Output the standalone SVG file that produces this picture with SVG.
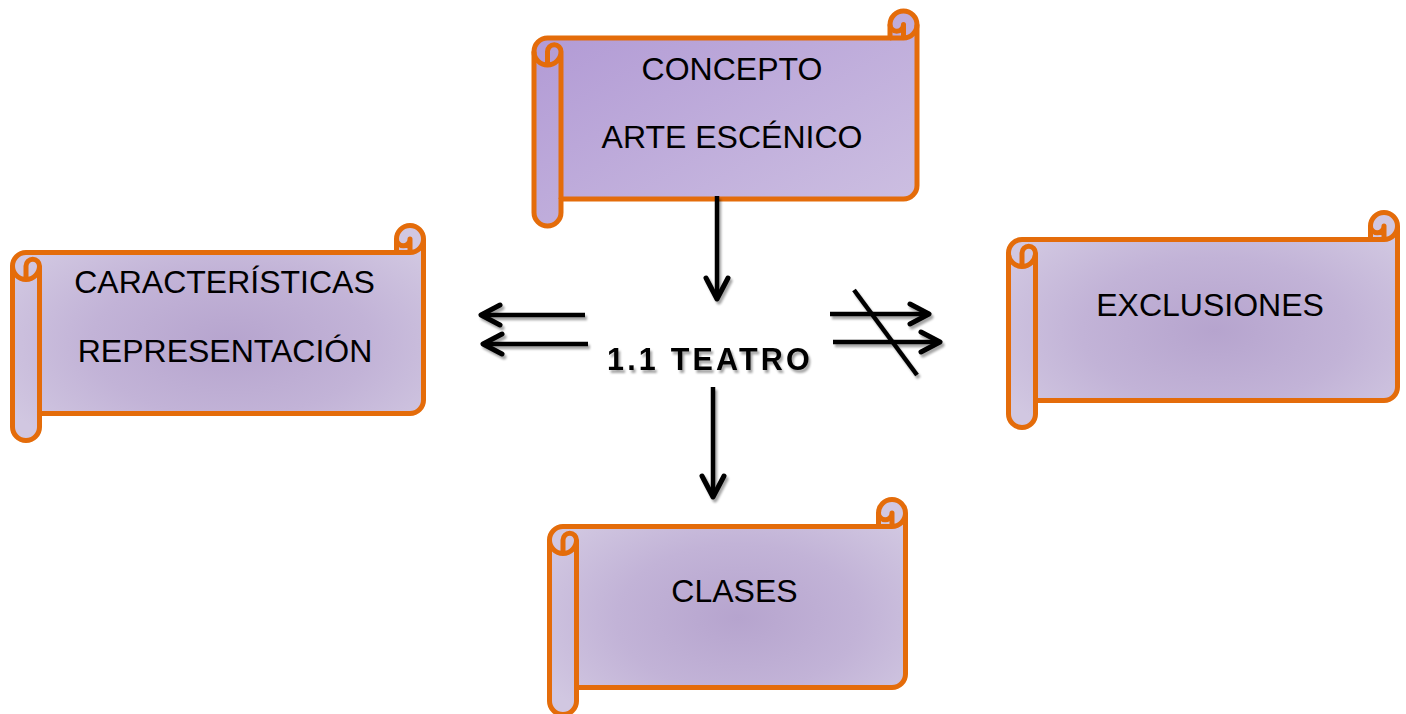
<svg xmlns="http://www.w3.org/2000/svg" width="1406" height="714" viewBox="0 0 1406 714">
<style>
.scroll{stroke:#E46C0A;stroke-width:5;stroke-linejoin:round}
.det{fill:none;stroke:#E46C0A;stroke-width:5;stroke-linejoin:round}
.lbl{font-family:"Liberation Sans",Arial,sans-serif;font-size:32px;fill:#000;text-anchor:middle}
.arr{stroke:#000;stroke-width:4.5;fill:none}
.head{stroke:#000;stroke-width:5;fill:none;stroke-linecap:round;stroke-linejoin:round}
</style>
<defs>
<linearGradient id="gLin" x1="0" y1="0" x2="1" y2="1">
<stop offset="0" stop-color="#B098D4"/>
<stop offset="1" stop-color="#CEC1E2"/>
</linearGradient>
<radialGradient id="gRad" cx="0.53" cy="0.55" r="0.62">
<stop offset="0" stop-color="#B6A4CE"/>
<stop offset="0.55" stop-color="#C2B3D7"/>
<stop offset="1" stop-color="#D1C7E1"/>
</radialGradient>
<filter id="sh" x="-20%" y="-20%" width="140%" height="140%">
<feDropShadow dx="2" dy="3" stdDeviation="1.3" flood-color="#000" flood-opacity="0.35"/>
</filter>
</defs>

<g id="concepto" transform="translate(534,11)">
<path class="scroll" fill="url(#gLin)" d="M0,40.5 A13.5 13.5 0 0 1 13.5,27 L356,27 L356,13.5 A13.5 13.5 0 0 1 383,13.5 L383,174.5 A13.5 13.5 0 0 1 369.5,188 L27,188 L27,201.5 A13.5 13.5 0 0 1 0,201.5 Z"/>
<path class="det" d="M356,27 L369.5,27 A13.5 13.5 0 0 0 383,13.5 M369.5,27 L369.5,13.5 A6.75 6.75 0 0 1 356,13.5 M13.5,54 L13.5,40.5 A6.75 6.75 0 0 1 27,40.5 A13.5 13.5 0 0 1 0,40.5 M27,40.5 L27,188"/>
<text class="lbl" x="198" y="69">CONCEPTO</text>
<text class="lbl" x="198" y="137">ARTE ESCÉNICO</text>
</g>

<g id="caracteristicas" transform="translate(12.5,225.5)">
<path class="scroll" fill="url(#gRad)" d="M0,40.5 A13.5 13.5 0 0 1 13.5,27 L384,27 L384,13.5 A13.5 13.5 0 0 1 411,13.5 L411,174.5 A13.5 13.5 0 0 1 397.5,188 L27,188 L27,201.5 A13.5 13.5 0 0 1 0,201.5 Z"/>
<path class="det" d="M384,27 L397.5,27 A13.5 13.5 0 0 0 411,13.5 M397.5,27 L397.5,13.5 A6.75 6.75 0 0 1 384,13.5 M13.5,54 L13.5,40.5 A6.75 6.75 0 0 1 27,40.5 A13.5 13.5 0 0 1 0,40.5 M27,40.5 L27,188"/>
<text class="lbl" x="212" y="67.5">CARACTERÍSTICAS</text>
<text class="lbl" x="212.5" y="136.5">REPRESENTACIÓN</text>
</g>

<g id="exclusiones" transform="translate(1008.5,212.5)">
<path class="scroll" fill="url(#gRad)" d="M0,40.5 A13.5 13.5 0 0 1 13.5,27 L362,27 L362,13.5 A13.5 13.5 0 0 1 389,13.5 L389,174.5 A13.5 13.5 0 0 1 375.5,188 L27,188 L27,201.5 A13.5 13.5 0 0 1 0,201.5 Z"/>
<path class="det" d="M362,27 L375.5,27 A13.5 13.5 0 0 0 389,13.5 M375.5,27 L375.5,13.5 A6.75 6.75 0 0 1 362,13.5 M13.5,54 L13.5,40.5 A6.75 6.75 0 0 1 27,40.5 A13.5 13.5 0 0 1 0,40.5 M27,40.5 L27,188"/>
<text class="lbl" x="201.5" y="103.5">EXCLUSIONES</text>
</g>

<g id="clases" transform="translate(549.5,499.5)">
<path class="scroll" fill="url(#gRad)" d="M0,40.5 A13.5 13.5 0 0 1 13.5,27 L329,27 L329,13.5 A13.5 13.5 0 0 1 356,13.5 L356,174.5 A13.5 13.5 0 0 1 342.5,188 L27,188 L27,201.5 A13.5 13.5 0 0 1 0,201.5 Z"/>
<path class="det" d="M329,27 L342.5,27 A13.5 13.5 0 0 0 356,13.5 M342.5,27 L342.5,13.5 A6.75 6.75 0 0 1 329,13.5 M13.5,54 L13.5,40.5 A6.75 6.75 0 0 1 27,40.5 A13.5 13.5 0 0 1 0,40.5 M27,40.5 L27,188"/>
<text class="lbl" x="185" y="102.5">CLASES</text>
</g>

<g id="teatro">
<text x="607" y="370" font-family="'Liberation Sans',Arial,sans-serif" font-size="30.5" font-weight="bold" letter-spacing="3.2" fill="#000" filter="url(#sh)">1.1 TEATRO</text>
</g>

<g id="connectors" filter="url(#sh)">
<path class="arr" d="M717,196 L717,297"/>
<path class="head" d="M706,278 L717,299 L728,278"/>
<path class="arr" d="M585,315 L484,315"/>
<path class="head" d="M500,305 L481,315 L500,325"/>
<path class="arr" d="M588,344 L486,344"/>
<path class="head" d="M502,334 L483,344 L502,354"/>
<path class="arr" d="M830,314 L926,314"/>
<path class="head" d="M910,304 L929,314 L910,324"/>
<path class="arr" d="M833,342 L937,342"/>
<path class="head" d="M921,332 L940,342 L921,352"/>
<path class="arr" d="M854,290 L917,375"/>
<path class="arr" d="M713,387 L713,494"/>
<path class="head" d="M702,476 L713,497 L724,476"/>
</g>
</svg>
